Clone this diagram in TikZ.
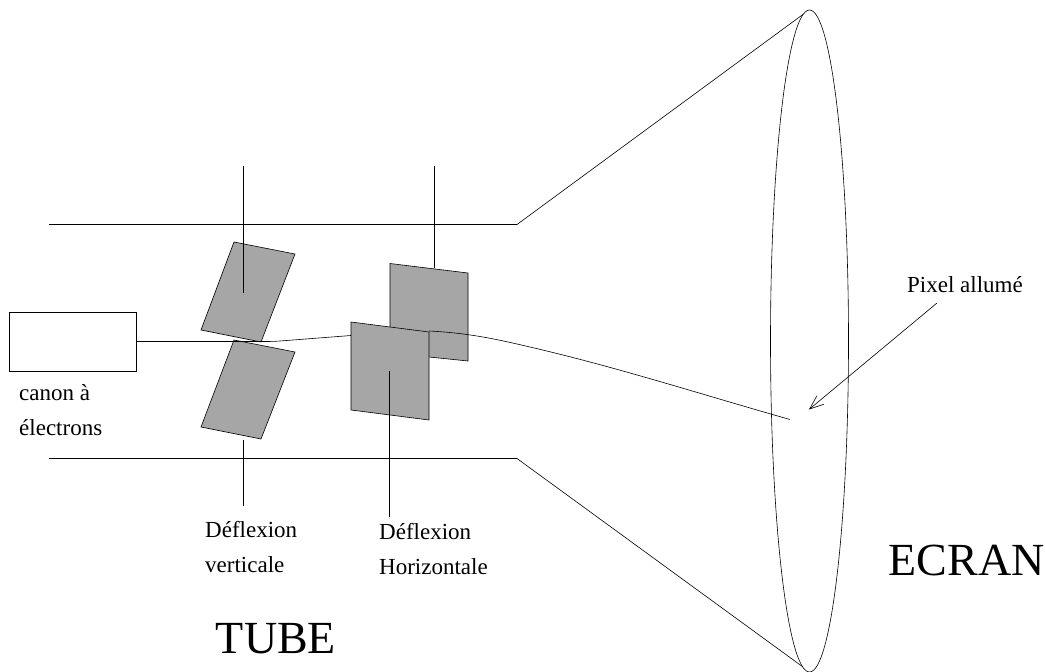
\documentclass[tikz,border=0pt]{standalone}
\usepackage{fontspec}
\setmainfont{Liberation Serif}
\usetikzlibrary{arrows.meta}
\tikzset{px/.style={x=1pt,y=-1pt},
 plate/.style={draw=black,fill=black!35,line width=0.6pt,line join=miter},
 ln/.style={draw=black,line width=0.6pt},
 small/.style={inner sep=0pt,anchor=west,font=\fontsize{23}{25}\selectfont},
 big/.style={inner sep=0pt,anchor=center,font=\fontsize{46}{50}\selectfont}}
\begin{document}
\begin{tikzpicture}[px]
\useasboundingbox (0,0) rectangle (1045,672);
\coordinate (tl) at (49,224.5); \coordinate (tm) at (517,224.5); \coordinate (tr) at (803,14.4);
\coordinate (bl) at (49,458.5); \coordinate (bm) at (517,458.5); \coordinate (br) at (803,667);
\coordinate (ec) at (809.5,341);
\draw[ln] (tl) -- (tm) -- (tr);
\draw[ln] (bl) -- (bm) -- (br);
\draw[ln] (ec) ellipse [x radius=39, y radius=331];
\node[draw=black,line width=0.6pt,minimum width=127pt,minimum height=59pt,inner sep=0pt] (gun) at (73,341.5) {};
\node[small] (c1) at (19,393) {canon à};
\node[small] (c2) at (19,428) {électrons};
\draw[plate] (390,263.5) -- (468,273) -- (468,361) -- (390,353) -- cycle;
\draw[plate] (234,242) -- (295,254) -- (261,342) -- (201,330) -- cycle;
\draw[plate] (234,340) -- (295,352) -- (261,439) -- (201,427) -- cycle;
\draw[plate] (351,322) -- (429,332) -- (429,420) -- (351,410) -- cycle;
\coordinate (b0) at (gun.east|-0,341.5);
\coordinate (b1) at (351,335.5);
\coordinate (b2) at (429,331);
\coordinate (b3) at (790,419.5);
\draw[ln] (b0) -- (262,341.5) .. controls (268,341.5) and (274,341.5) .. (280,341) -- (b1);
\draw[ln] (b2) .. controls (470,333) and (500,340) .. (530,347) .. controls (620,368) and (700,394) .. (b3);
\draw[ln] (243.7,166) -- (243.7,293);
\draw[ln] (243.7,440) -- (243.7,506);
\draw[ln] (434.7,166) -- (434.7,268);
\draw[ln] (389.7,371) -- (389.7,517);
\coordinate (tip) at (809,409.5);
\coordinate (tail) at (937,303);
\draw[ln,-{Straight Barb[length=14pt,width=11pt]}] (tail) -- (tip);
\node[small] at (907,285) {Pixel allumé};
\node[small] at (205,530) {Déflexion};
\node[small] at (205,565) {verticale};
\node[small] at (379,532) {Déflexion};
\node[small] at (379,567) {Horizontale};
\node[big] at (276,639) {TUBE};
\node[big] at (966.5,560) {ECRAN};
\end{tikzpicture}
\end{document}
